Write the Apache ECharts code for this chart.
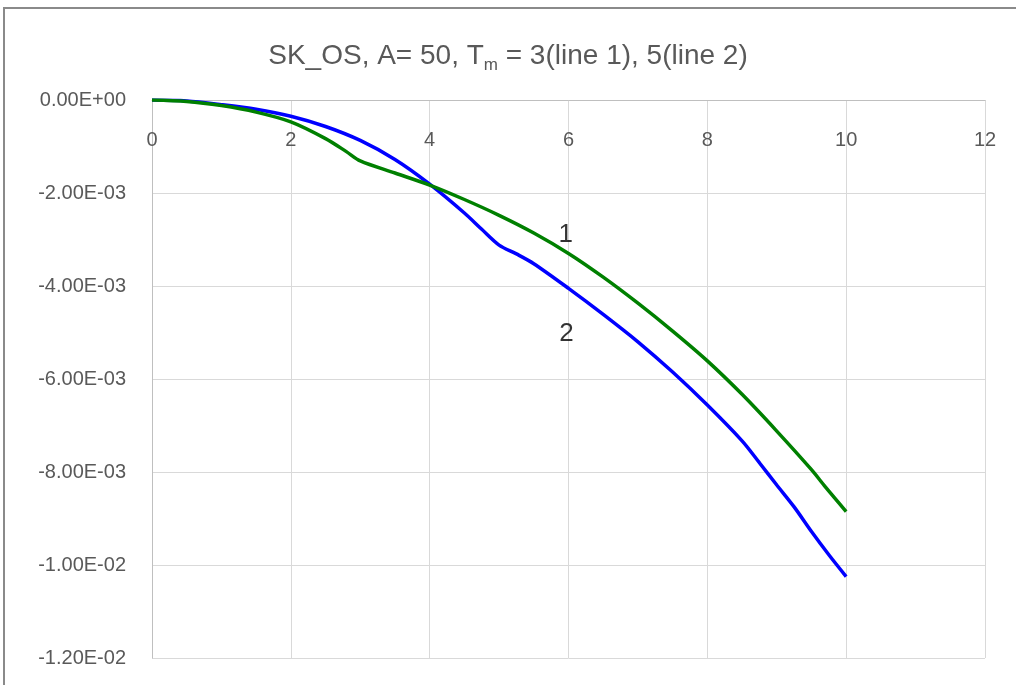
<!DOCTYPE html>
<html>
<head>
<meta charset="utf-8">
<script src="https://cdn.jsdelivr.net/npm/echarts@6/dist/echarts.min.js"></script>
<style>
  html, body { margin: 0; padding: 0; background: #fff; }
  #chart { width: 1016px; height: 685px; }
</style>
</head>
<body>
<div id="chart"></div>
<script>
// Time axis samples and displacement of the two SK_OS runs
const line1X = [0, 0.5, 1, 1.5, 2, 2.5, 2.8, 3, 3.5, 4, 4.5, 5, 5.5, 6, 6.5, 7, 7.5, 8, 8.5, 9, 9.5, 9.7, 10];
const line1Y = [0, -0.00003, -0.00012, -0.00026, -0.00047, -0.00083, -0.00111, -0.00131, -0.00157, -0.00183, -0.00214,
                -0.00248, -0.00286, -0.0033, -0.00381, -0.00437, -0.00497, -0.00561, -0.00633, -0.00712, -0.00795, -0.00832, -0.00885];

const line2X = [0, 0.5, 1, 1.5, 2, 2.5, 3, 3.5, 4, 4.5, 4.75, 5, 5.25, 5.5, 6, 6.5, 7, 7.5, 8, 8.5, 8.75, 9, 9.25, 9.5, 9.75, 10];
const line2Y = [0, -0.00002, -0.0001, -0.0002, -0.00035, -0.00057, -0.00087, -0.00128, -0.00181, -0.00243, -0.00278,
                -0.00312, -0.00331, -0.00352, -0.00405, -0.00461, -0.0052, -0.00585, -0.00656, -0.00733, -0.0078,
                -0.00828, -0.00875, -0.00928, -0.00978, -0.01025];

// Curve tags placed beside each line
const tagText = ['1', '2'];
const tagX = [5.96, 5.97];
const tagY = [-0.0029, -0.00503];

const xTicks = { min: 0, max: 12, step: 2 };
const yTicks = { min: -0.012, max: 0, step: 0.002 };

function sci(v) {
  if (Math.abs(v) < 1e-12) return '0.00E+00';
  const s = v.toExponential(2).toUpperCase();
  const m = s.match(/^(-?[\d.]+)E([+-])(\d+)$/);
  return m[1] + 'E' + m[2] + m[3].padStart(2, '0');
}

const zip = (xs, ys) => xs.map((x, i) => [x, ys[i]]);

const chart = echarts.init(document.getElementById('chart'));
const font = '"Liberation Sans", Arial, sans-serif';

chart.setOption({
  animation: false,
  backgroundColor: '#ffffff',
  title: {
    text: '{a|SK_OS, A= 50, T}{s|m}{a| = 3(line 1), 5(line 2)}',
    left: 'center',
    top: 33,
    textStyle: {
      rich: {
        a: { fontFamily: font, fontSize: 28, fontWeight: 'normal', color: '#595959', lineHeight: 36 },
        s: { fontFamily: font, fontSize: 17, fontWeight: 'normal', color: '#595959', lineHeight: 36, verticalAlign: 'bottom', padding: [18, 0, 0, 0] }
      }
    }
  },
  graphic: [{
    type: 'rect',
    shape: { x: 4, y: 8, width: 1100, height: 800 },
    style: { fill: 'none', stroke: '#8a8a8a', lineWidth: 2 },
    silent: true
  }],
  grid: { left: 152, top: 100, right: 31, bottom: 27 },
  xAxis: {
    type: 'value',
    position: 'top',
    min: xTicks.min, max: xTicks.max, interval: xTicks.step,
    axisLine: { show: true, onZero: false, lineStyle: { color: '#bfbfbf', width: 1 } },
    axisTick: { show: false },
    axisLabel: { inside: true, margin: 30, color: '#595959', fontFamily: font, fontSize: 20 },
    splitLine: { show: true, lineStyle: { color: '#d9d9d9', width: 1 } }
  },
  yAxis: {
    type: 'value',
    min: yTicks.min, max: yTicks.max, interval: yTicks.step,
    axisLine: { show: true, onZero: false, lineStyle: { color: '#bfbfbf', width: 1 } },
    axisTick: { show: false },
    axisLabel: { margin: 26, color: '#595959', fontFamily: font, fontSize: 20, formatter: sci },
    splitLine: { show: true, lineStyle: { color: '#d9d9d9', width: 1 } }
  },
  series: [
    {
      name: 'line 1',
      type: 'line',
      data: zip(line1X, line1Y),
      smooth: 0.3,
      showSymbol: false,
      lineStyle: { color: '#008000', width: 3.5 },
      z: 3
    },
    {
      name: 'line 2',
      type: 'line',
      data: zip(line2X, line2Y),
      smooth: 0.3,
      showSymbol: false,
      lineStyle: { color: '#0000ff', width: 3.5 },
      z: 2
    },
    {
      name: 'tags',
      type: 'scatter',
      symbolSize: 0,
      data: tagText.map((t, i) => ({ name: t, value: [tagX[i], tagY[i]] })),
      label: {
        show: true,
        position: 'inside',
        formatter: p => p.name,
        color: '#000000',
        fontFamily: font,
        fontSize: 26
      },
      silent: true,
      z: 4
    }
  ]
});
</script>
</body>
</html>
